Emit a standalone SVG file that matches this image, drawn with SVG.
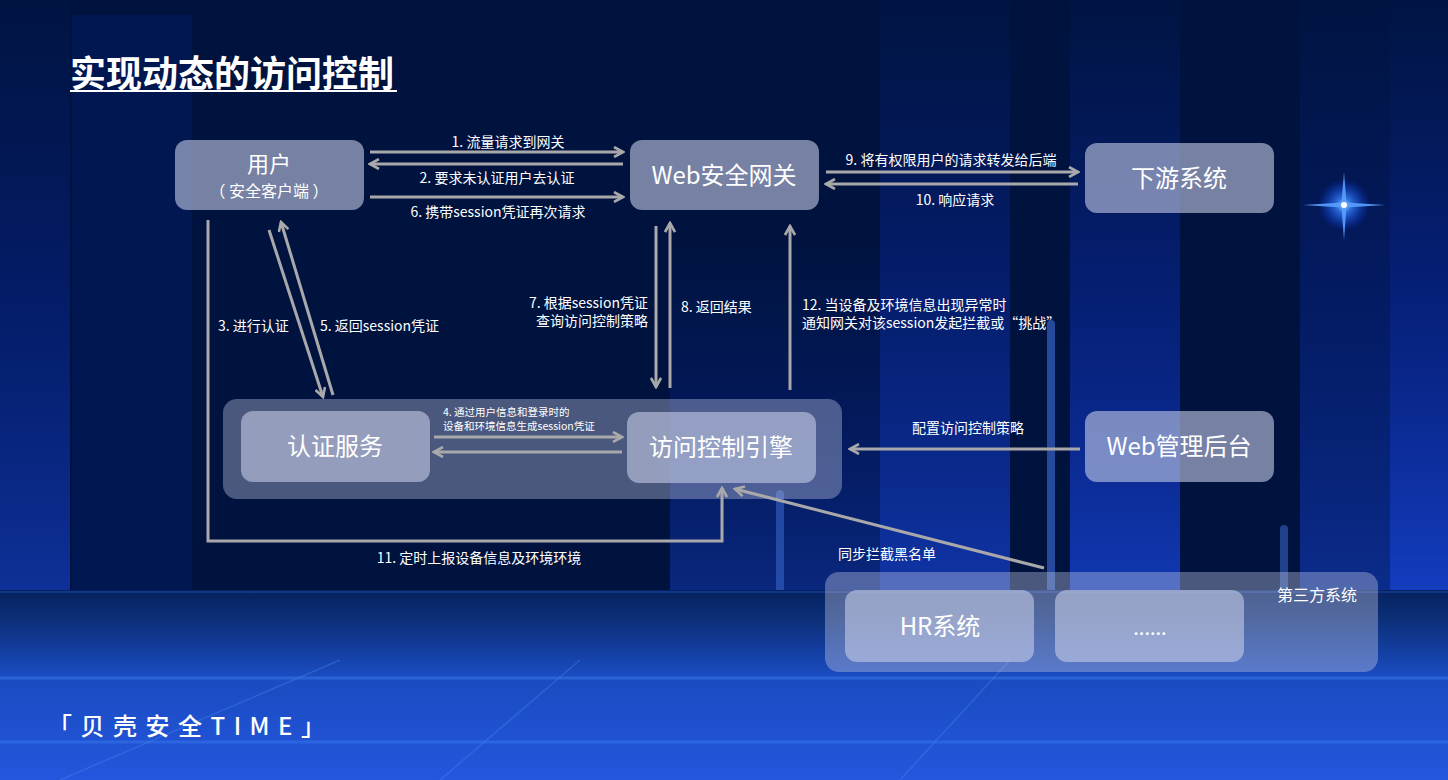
<svg xmlns="http://www.w3.org/2000/svg" width="1448" height="780" viewBox="0 0 1448 780">
<defs>
<style>
.t{font-family:"Noto Sans CJK SC","Noto Sans",sans-serif;fill:#ffffff}
.lbl{font-size:14px}
.nd{font-size:24px}
.box{fill:#c4cbe6;fill-opacity:0.6}
.grp{fill:#c4cbe6;fill-opacity:0.38}
.ln{stroke:#a9a9ab;stroke-width:3;fill:none}
</style>
<marker id="ah" viewBox="0 0 12 12" refX="10" refY="6" markerWidth="12" markerHeight="12" markerUnits="userSpaceOnUse" orient="auto">
<path d="M1,1 L10,6 L1,11" fill="none" stroke="#a9a9ab" stroke-width="2.6"/>
</marker>
<linearGradient id="floor" x1="0" y1="0" x2="0" y2="1">
<stop offset="0" stop-color="#06215e"/>
<stop offset="0.15" stop-color="#0c2f78"/>
<stop offset="0.45" stop-color="#1a4bc0"/>
<stop offset="1" stop-color="#2456de"/>
</linearGradient>
<linearGradient id="stripe" x1="0" y1="0" x2="0" y2="1">
<stop offset="0" stop-color="#0a2a9a" stop-opacity="0.05"/>
<stop offset="0.45" stop-color="#0a2aa8" stop-opacity="0.5"/>
<stop offset="1" stop-color="#1540c8" stop-opacity="0.95"/>
</linearGradient>
<radialGradient id="glow">
<stop offset="0" stop-color="#ffffff"/>
<stop offset="0.25" stop-color="#3a8cff"/>
<stop offset="1" stop-color="#0a3cff" stop-opacity="0"/>
</radialGradient>
</defs>
<g id="background">
<rect width="1448" height="780" fill="#00133f"/>
<rect x="0" y="0" width="70" height="600" fill="url(#stripe)" opacity="0.7"/>
<rect x="72" y="15" width="120" height="585" fill="#001a5e" opacity="0.6"/>
<rect x="880" y="0" width="130" height="600" fill="url(#stripe)" opacity="0.8"/>
<rect x="1070" y="0" width="110" height="600" fill="url(#stripe)" opacity="0.9"/>
<rect x="1300" y="0" width="90" height="600" fill="url(#stripe)" opacity="0.6"/>
<rect x="1390" y="0" width="58" height="600" fill="url(#stripe)" opacity="1"/>
<rect x="670" y="250" width="210" height="350" fill="url(#stripe)" opacity="0.5"/>
<rect x="1047" y="320" width="8" height="280" rx="4" fill="#3f6fd8" opacity="0.6"/>
<rect x="776" y="490" width="8" height="110" rx="4" fill="#3f6fd8" opacity="0.5"/>
<rect x="1280" y="525" width="8" height="75" rx="4" fill="#3f6fd8" opacity="0.5"/>
<rect x="0" y="590" width="1448" height="190" fill="url(#floor)"/>
<line x1="0" y1="592" x2="1448" y2="592" stroke="#2a6ae0" stroke-width="1.5" opacity="0.4"/>
<line x1="0" y1="678" x2="1448" y2="678" stroke="#3a7cf0" stroke-width="3" opacity="0.5"/>
<line x1="0" y1="742" x2="1448" y2="742" stroke="#3a7cf0" stroke-width="3" opacity="0.45"/>
<line x1="60" y1="780" x2="340" y2="660" stroke="#4a8af0" stroke-width="1.5" opacity="0.35"/>
<line x1="440" y1="780" x2="580" y2="660" stroke="#4a8af0" stroke-width="1.5" opacity="0.35"/>
<line x1="900" y1="780" x2="1010" y2="660" stroke="#4a8af0" stroke-width="1.5" opacity="0.35"/>
<circle cx="1344" cy="205" r="26" fill="url(#glow)" opacity="0.8"/>
<path d="M1344,172 L1346.5,202.5 L1385,205 L1346.5,207.5 L1344,240 L1341.5,207.5 L1303,205 L1341.5,202.5 Z" fill="#5aa0ff" opacity="0.9"/>
<circle cx="1344" cy="205" r="3" fill="#ffffff"/>
</g>
<g id="title">
<text x="70" y="87" class="t" font-size="36" font-weight="bold">实现动态的访问控制</text>
<line x1="70" y1="91" x2="397" y2="91" stroke="#ffffff" stroke-width="2"/>
</g>
<g id="groups">
<rect id="core-group" x="223" y="399" width="619" height="100" rx="14" class="grp"/>
<rect id="third-party-group" x="825" y="572" width="553" height="100" rx="14" class="grp"/>
<text x="1317" y="601" class="t" font-size="16" text-anchor="middle">第三方系统</text>
</g>
<g id="connectors">
<line x1="370" y1="152" x2="623" y2="152" class="ln" marker-end="url(#ah)"/>
<line x1="623" y1="164" x2="370" y2="164" class="ln" marker-end="url(#ah)"/>
<line x1="370" y1="197" x2="623" y2="197" class="ln" marker-end="url(#ah)"/>
<line x1="269" y1="230" x2="323" y2="397" class="ln" marker-end="url(#ah)"/>
<line x1="333" y1="395" x2="281" y2="222" class="ln" marker-end="url(#ah)"/>
<polyline points="208,220 208,541 722,541 722,488" class="ln" marker-end="url(#ah)"/>
<line x1="656" y1="226" x2="656" y2="387" class="ln" marker-end="url(#ah)"/>
<line x1="670" y1="388" x2="670" y2="223" class="ln" marker-end="url(#ah)"/>
<line x1="790" y1="390" x2="790" y2="226" class="ln" marker-end="url(#ah)"/>
<line x1="434" y1="437" x2="622" y2="437" class="ln" marker-end="url(#ah)"/>
<line x1="622" y1="452" x2="434" y2="452" class="ln" marker-end="url(#ah)"/>
<line x1="826" y1="172" x2="1078" y2="172" class="ln" marker-end="url(#ah)"/>
<line x1="1078" y1="184" x2="826" y2="184" class="ln" marker-end="url(#ah)"/>
<line x1="1080" y1="449" x2="850" y2="449" class="ln" marker-end="url(#ah)"/>
<line x1="1044" y1="568" x2="735" y2="489" class="ln" marker-end="url(#ah)"/>
</g>
<g id="labels">
<text x="508" y="147" class="t lbl" text-anchor="middle">1. 流量请求到网关</text>
<text x="497" y="183" class="t lbl" text-anchor="middle">2. 要求未认证用户去认证</text>
<text x="498" y="217" class="t lbl" text-anchor="middle">6. 携带session凭证再次请求</text>
<text x="218" y="331" class="t lbl">3. 进行认证</text>
<text x="320" y="331" class="t lbl">5. 返回session凭证</text>
<text x="648" y="308" class="t lbl" text-anchor="end">7. 根据session凭证</text>
<text x="648" y="326" class="t lbl" text-anchor="end">查询访问控制策略</text>
<text x="681" y="312" class="t lbl">8. 返回结果</text>
<text x="802" y="310" class="t lbl">12. 当设备及环境信息出现异常时</text>
<text x="802" y="328" class="t lbl">通知网关对该session发起拦截或“挑战”</text>
<text x="443" y="416" class="t" font-size="10.5">4. 通过用户信息和登录时的</text>
<text x="443" y="430" class="t" font-size="10.5">设备和环境信息生成session凭证</text>
<text x="951" y="165" class="t lbl" text-anchor="middle">9. 将有权限用户的请求转发给后端</text>
<text x="955" y="205" class="t lbl" text-anchor="middle">10. 响应请求</text>
<text x="968" y="433" class="t lbl" text-anchor="middle">配置访问控制策略</text>
<text x="838" y="559" class="t lbl">同步拦截黑名单</text>
<text x="479" y="563" class="t lbl" text-anchor="middle">11. 定时上报设备信息及环境环境</text>
</g>
<g id="node-user">
<rect x="175" y="140" width="189" height="70" rx="12" class="box"/>
<text x="269" y="172" class="t" font-size="22" text-anchor="middle">用户</text>
<text x="269" y="197" class="t" font-size="16" text-anchor="middle">（ 安全客户端 ）</text>
</g>
<g id="node-gateway">
<rect x="630" y="140" width="189" height="70" rx="12" class="box"/>
<text x="724" y="184" class="t nd" text-anchor="middle">Web安全网关</text>
</g>
<g id="node-downstream">
<rect x="1085" y="143" width="189" height="70" rx="12" class="box"/>
<text x="1179" y="187" class="t nd" text-anchor="middle">下游系统</text>
</g>
<g id="node-auth">
<rect x="241" y="411" width="189" height="71" rx="12" class="box"/>
<text x="335" y="455" class="t nd" text-anchor="middle">认证服务</text>
</g>
<g id="node-engine">
<rect x="627" y="412" width="189" height="71" rx="12" class="box"/>
<text x="721" y="456" class="t nd" text-anchor="middle">访问控制引擎</text>
</g>
<g id="node-admin">
<rect x="1085" y="411" width="189" height="71" rx="12" class="box"/>
<text x="1179" y="455" class="t nd" text-anchor="middle">Web管理后台</text>
</g>
<g id="node-hr">
<rect x="845" y="590" width="189" height="72" rx="12" class="box"/>
<text x="940" y="635" class="t nd" text-anchor="middle">HR系统</text>
</g>
<g id="node-more">
<rect x="1055" y="590" width="189" height="72" rx="12" class="box"/>
<text x="1150" y="635" class="t" font-size="20" text-anchor="middle">......</text>
</g>
<g id="footer">
<text x="48" y="735" class="t" font-size="24" font-weight="500" letter-spacing="8.5">「贝壳安全TIME」</text>
</g>
</svg>
